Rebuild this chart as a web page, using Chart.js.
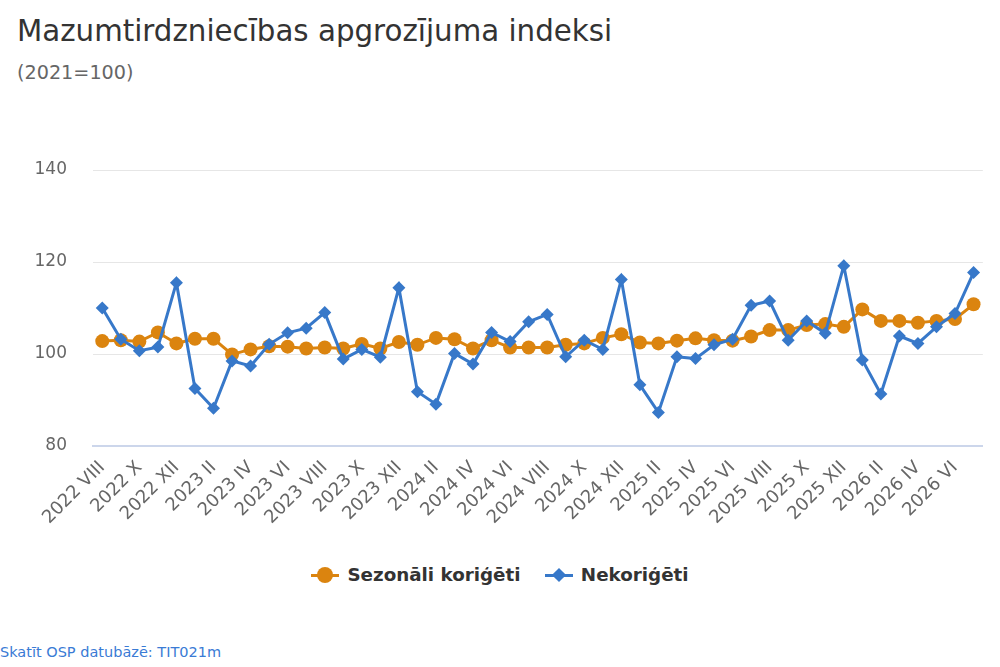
<!DOCTYPE html>
<html lang="lv">
<head>
<meta charset="utf-8">
<script src="https://cdn.jsdelivr.net/npm/chart.js@4.4.1/dist/chart.umd.min.js"></script>
<style>
  html, body { margin: 0; padding: 0; background: #fff; }
  body { width: 1000px; height: 667px; position: relative; overflow: hidden; font-family: "DejaVu Sans", sans-serif; }
  #title { position: absolute; left: 17px; top: 14px; font-size: 29.3px; color: #333; white-space: nowrap; }
  #subtitle { position: absolute; left: 17px; top: 61px; font-size: 19.2px; color: #666; }
  #wrap { position: absolute; left: 0; top: 0; width: 1000px; height: 550px; }
  #legend { position: absolute; left: 0; top: 564px; width: 1000px; text-align: center; font-size: 18.3px; font-weight: bold; color: #333; }
  .item { display: inline-flex; align-items: center; margin: 0 9px; }
  .sym { position: relative; width: 28px; height: 14px; margin-right: 8px; }
  .sym .ln { position: absolute; left: 0; right: 0; top: 6px; height: 3px; }
  .sym .dot { position: absolute; left: 6px; top: -1px; width: 16px; height: 16px; border-radius: 50%; }
  .sym .dia { position: absolute; left: 9px; top: 2px; width: 10px; height: 10px; transform: rotate(45deg); }
  #footer { position: absolute; left: 0; top: 644px; font-size: 14.5px; color: #3a7bd5; }
</style>
</head>
<body>
<div id="title">Mazumtirdzniecības apgrozījuma indeksi</div>
<div id="subtitle">(2021=100)</div>
<div id="wrap"><canvas id="chart"></canvas></div>
<div id="legend">
  <span class="item"><span class="sym"><span class="ln" style="background:#db840f"></span><span class="dot" style="background:#db840f"></span></span>Sezonāli koriģēti</span>
  <span class="item"><span class="sym"><span class="ln" style="background:#3778c9"></span><span class="dia" style="background:#3778c9"></span></span>Nekoriģēti</span>
</div>
<div id="footer">Skatīt OSP datubāzē: TIT021m</div>
<script>
// mēneši 2022 VIII – 2026 VII
const labels = [
  '2022 VIII', '2022 IX', '2022 X', '2022 XI', '2022 XII',
  '2023 I', '2023 II', '2023 III', '2023 IV', '2023 V', '2023 VI', '2023 VII', '2023 VIII', '2023 IX', '2023 X', '2023 XI', '2023 XII',
  '2024 I', '2024 II', '2024 III', '2024 IV', '2024 V', '2024 VI', '2024 VII', '2024 VIII', '2024 IX', '2024 X', '2024 XI', '2024 XII',
  '2025 I', '2025 II', '2025 III', '2025 IV', '2025 V', '2025 VI', '2025 VII', '2025 VIII', '2025 IX', '2025 X', '2025 XI', '2025 XII',
  '2026 I', '2026 II', '2026 III', '2026 IV', '2026 V', '2026 VI', '2026 VII'
];

const seasonal = [
  102.8, 103.0, 102.7, 104.7, 102.3, 103.3, 103.3, 99.9, 101.0, 101.7, 101.6, 101.2,
  101.4, 101.2, 102.2, 101.2, 102.6, 102.0, 103.5, 103.2, 101.2, 103.0, 101.4, 101.4,
  101.4, 102.0, 102.3, 103.5, 104.3, 102.5, 102.3, 102.9, 103.4, 103.0, 102.9, 103.8,
  105.2, 105.2, 106.3, 106.5, 105.9, 109.7, 107.2, 107.2, 106.8, 107.2, 107.6, 110.8
];
const unadjusted = [
  110.0, 103.2, 100.7, 101.5, 115.5, 92.5, 88.2, 98.5, 97.4, 102.1, 104.6, 105.6,
  109.0, 98.9, 101.0, 99.3, 114.4, 91.8, 89.1, 100.1, 97.8, 104.7, 102.7, 107.0,
  108.6, 99.4, 103.0, 101.0, 116.2, 93.3, 87.3, 99.4, 99.0, 102.0, 103.2, 110.6,
  111.5, 103.0, 107.2, 104.5, 119.2, 98.7, 91.3, 103.9, 102.3, 105.9, 108.8, 117.7
];
const yTicks = [80, 100, 120, 140];

const ORANGE = '#db840f';
const BLUE = '#3778c9';

const ctx = document.getElementById('chart');
new Chart(ctx, {
  type: 'line',
  data: {
    labels: labels,
    datasets: [
      {
        label: 'Sezonāli koriģēti',
        data: seasonal,
        borderColor: ORANGE,
        backgroundColor: ORANGE,
        borderWidth: 3,
        pointStyle: 'circle',
        pointRadius: 7,
        pointBorderWidth: 0,
        tension: 0,
        order: 1
      },
      {
        label: 'Nekoriģēti',
        data: unadjusted,
        borderColor: BLUE,
        backgroundColor: BLUE,
        borderWidth: 3,
        pointStyle: 'rectRot',
        pointRadius: 6.5,
        pointBorderWidth: 0,
        tension: 0,
        order: 0
      }
    ]
  },
  options: {
    responsive: true,
    maintainAspectRatio: false,
    animation: false,
    layout: { padding: { left: 0, right: 17, top: 170, bottom: 0 } },
    plugins: {
      legend: { display: false },
      title: { display: false },
      tooltip: { enabled: false }
    },
    scales: {
      x: {
        offset: true,
        grid: { display: false, drawTicks: false },
        border: { display: true, color: '#ccd6eb', width: 2 },
        ticks: {
          autoSkip: false,
          maxRotation: 45,
          minRotation: 45,
          padding: 11,
          color: '#666',
          font: { family: 'DejaVu Sans', size: 18 },
          callback: function(value, index) {
            return index % 2 === 0 ? this.getLabelForValue(value) : '';
          }
        },
        afterFit: function(scale) { scale.height = 104; }
      },
      y: {
        min: 80,
        max: 140,
        afterBuildTicks: function(scale) {
          scale.ticks = yTicks.map(v => ({ value: v }));
        },
        grid: { color: '#e6e6e6', lineWidth: 1, drawTicks: false },
        border: { display: false },
        ticks: {
          padding: 26,
          color: '#666',
          font: { family: 'DejaVu Sans', size: 17 }
        },
        afterFit: function(scale) { scale.width = 93; }
      }
    }
  }
});
</script>
</body>
</html>
